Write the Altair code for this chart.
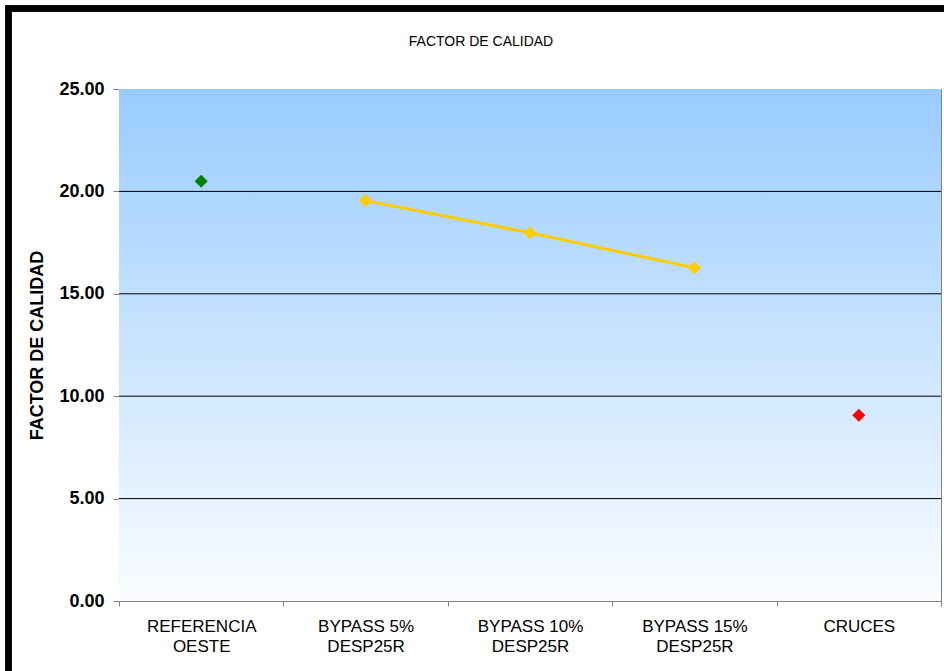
import altair as alt
import pandas as pd

categories = ["REFERENCIA|OESTE", "BYPASS 5%|DESP25R", "BYPASS 10%|DESP25R", "BYPASS 15%|DESP25R", "CRUCES"]
values = [20.5, 19.55, 17.98, 16.27, 9.07]
series = ["ref", "bypass", "bypass", "bypass", "cruces"]
series_names = ["ref", "bypass", "cruces"]
series_colors = ["#008000", "#FFCC00", "#FF0000"]
grid_values = [5, 10, 15, 20]
y_ticks = [0, 5, 10, 15, 20, 25]
chart_title = ["FACTOR DE CALIDAD"]

df = pd.DataFrame({"cat": categories, "val": values, "series": series})
grid_df = pd.DataFrame({"g": grid_values})
title_df = pd.DataFrame({"t": chart_title})

W, H = 822, 512

x_enc = alt.X("cat:N", sort=categories, title=None,
              scale=alt.Scale(paddingInner=0, paddingOuter=0),
              axis=alt.Axis(labelExpr="isValid(datum.value) ? split(datum.value, '|') : ''", labelAngle=0,
                            labelFontSize=17, labelFont="Liberation Sans", labelColor="black",
                            labelLineHeight=20, labelPadding=12, tickBand="extent",
                            tickSize=5, tickColor="#808080", domainColor="#808080",
                            labelBaseline="top"))
y_scale = alt.Scale(domain=[0, 25], nice=False)
y_enc = alt.Y("val:Q", scale=y_scale, title="FACTOR DE CALIDAD",
              axis=alt.Axis(values=y_ticks, format=".2f", grid=False,
                            labelFontSize=18, labelFontWeight="bold", labelFont="Liberation Sans",
                            labelColor="black", tickSize=6, tickColor="#808080",
                            domainColor="#808080", labelPadding=9,
                            titleFontSize=18, titleFontWeight="bold", titleFont="Liberation Sans",
                            titleColor="black", titlePadding=12))

bg = alt.Chart(grid_df).mark_rect(
    color=alt.LinearGradient(gradient="linear", x1=0, y1=0, x2=0, y2=1,
                             stops=[alt.GradientStop(color="#99CCFF", offset=0),
                                    alt.GradientStop(color="#FAFCFF", offset=1)])
).encode(x=alt.value(0), x2=alt.value(W), y=alt.value(0), y2=alt.value(H))

grid = alt.Chart(grid_df).mark_rule(color="black", strokeWidth=1).encode(
    y=alt.Y("g:Q", scale=y_scale))

base = alt.Chart(df)
line = base.transform_filter(alt.datum.series == "bypass").mark_line(
    color="#FFCC00", strokeWidth=3).encode(x=x_enc, y=y_enc)
pts = base.mark_point(shape="diamond", filled=True, size=170, opacity=1).encode(
    x=x_enc, y=y_enc,
    color=alt.Color("series:N", scale=alt.Scale(domain=series_names, range=series_colors), legend=None))

frame = alt.Chart(grid_df).mark_rect(fill=None, stroke="black", strokeWidth=6).encode(
    x=alt.value(-110.5), y=alt.value(-80.5), x2=alt.value(W + 50), y2=alt.value(H + 100))

title_txt = alt.Chart(title_df).mark_text(
    fontSize=14, font="Liberation Sans", color="black", align="center", baseline="middle"
).encode(text="t:N", x=alt.value(481 - 119), y=alt.value(42 - 89))

chart = alt.layer(bg, grid, line, pts, frame, title_txt).properties(
    width=W, height=H,
    autosize=alt.AutoSizeParams(type="none"),
    padding={"left": 119, "top": 89, "right": 3, "bottom": 70},
    background="white",
).configure_view(stroke="#808080", strokeWidth=1)

chart.save("out.html", embed_options={"renderer": "svg", "actions": False})
